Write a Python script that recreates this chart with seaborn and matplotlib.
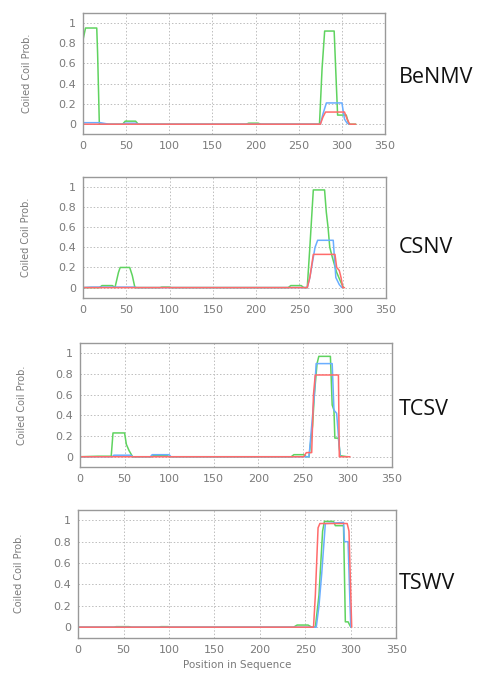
import numpy as np
import matplotlib
matplotlib.use("Agg")
import matplotlib.pyplot as plt
import seaborn as sns

# Coiled coil probability profiles (breakpoints)
benmv_green_x = [0, 3, 16, 17, 19, 46, 49, 61, 64, 189, 192, 203, 206, 274, 277, 280, 291, 293, 295, 305, 308, 316]
benmv_green_y = [0.83, 0.95, 0.95, 0.7, 0, 0, 0.03, 0.03, 0, 0, 0.01, 0.01, 0, 0, 0.55, 0.92, 0.92, 0.5, 0.09, 0.09, 0, 0]
benmv_blue_x = [0, 20, 30, 46, 49, 61, 64, 275, 278, 282, 300, 303, 306, 309]
benmv_blue_y = [0.015, 0.015, 0, 0, 0.01, 0.01, 0, 0, 0.1, 0.21, 0.21, 0.05, 0.01, 0]
benmv_red_x = [0, 275, 278, 281, 303, 306, 309, 316]
benmv_red_y = [0, 0, 0.07, 0.12, 0.12, 0.05, 0, 0]

csnv_green_x = [0, 19, 22, 34, 37, 41, 43, 54, 57, 60, 89, 91, 100, 102, 237, 240, 252, 255, 259, 262, 266, 279, 281, 283, 285, 288, 293, 298, 301]
csnv_green_y = [0, 0, 0.02, 0.02, 0, 0.15, 0.2, 0.2, 0.12, 0, 0, 0.005, 0.005, 0, 0, 0.02, 0.02, 0, 0, 0.4, 0.97, 0.97, 0.75, 0.6, 0.4, 0.3, 0.15, 0.05, 0]
csnv_blue_x = [0, 10, 60, 62, 259, 262, 268, 271, 289, 292, 296, 299]
csnv_blue_y = [0, 0.005, 0.005, 0, 0, 0.1, 0.4, 0.47, 0.47, 0.1, 0.03, 0]
csnv_red_x = [0, 259, 262, 266, 291, 293, 296, 298, 300, 302]
csnv_red_y = [0, 0, 0.1, 0.33, 0.33, 0.2, 0.17, 0.1, 0, 0]

tcsv_green_x = [0, 20, 35, 37, 50, 52, 55, 59, 80, 82, 98, 100, 237, 240, 251, 254, 257, 261, 263, 266, 268, 281, 283, 285, 286, 290, 292, 300]
tcsv_green_y = [0, 0.005, 0.005, 0.23, 0.23, 0.12, 0.06, 0, 0, 0.01, 0.01, 0, 0, 0.02, 0.02, 0, 0, 0.3, 0.6, 0.9, 0.97, 0.97, 0.5, 0.45, 0.18, 0.18, 0.01, 0]
tcsv_blue_x = [0, 36, 38, 57, 59, 79, 81, 100, 102, 257, 260, 263, 265, 283, 285, 288, 290, 292]
tcsv_blue_y = [0, 0, 0.015, 0.015, 0, 0, 0.02, 0.02, 0, 0, 0.3, 0.6, 0.9, 0.9, 0.45, 0.42, 0.2, 0]
tcsv_red_x = [0, 251, 254, 260, 262, 264, 290, 291, 303]
tcsv_red_y = [0, 0, 0.04, 0.04, 0.6, 0.79, 0.79, 0, 0]

tswv_green_x = [0, 39, 42, 56, 59, 89, 91, 99, 101, 237, 241, 253, 257, 261, 265, 269, 271, 281, 283, 292, 294, 297, 300]
tswv_green_y = [0, 0, 0.005, 0.005, 0, 0, 0.005, 0.005, 0, 0, 0.02, 0.02, 0, 0, 0.3, 0.9, 0.99, 0.99, 0.95, 0.95, 0.05, 0.05, 0]
tswv_blue_x = [0, 262, 265, 268, 272, 292, 293, 297, 299, 300]
tswv_blue_y = [0, 0, 0.2, 0.5, 0.97, 0.98, 0.8, 0.8, 0.25, 0]
tswv_red_x = [0, 259, 261, 264, 266, 296, 298, 300, 301]
tswv_red_y = [0, 0, 0.3, 0.93, 0.97, 0.97, 0.9, 0.3, 0]

virus_names = ["BeNMV", "CSNV", "TCSV", "TSWV"]
x_ticks = [0, 50, 100, 150, 200, 250, 300, 350]
y_ticks = [0, 0.2, 0.4, 0.6, 0.8, 1]
y_tick_labels = ["0", "0.2", "0.4", "0.6", "0.8", "1"]

sns.set_style("white")
plt.rcParams["font.family"] = ["DejaVu Sans"]

fig = plt.figure(figsize=(4.85, 6.75), dpi=100)

# axes boxes [left, bottom, width, height] in figure fraction
boxes = [
    [0.171, 0.801, 0.623, 0.180],
    [0.171, 0.559, 0.625, 0.179],
    [0.165, 0.308, 0.643, 0.184],
    [0.161, 0.055, 0.656, 0.190],
]
label_y = [0.885, 0.634, 0.393, 0.136]

panels = [
    (benmv_green_x, benmv_green_y, benmv_blue_x, benmv_blue_y, benmv_red_x, benmv_red_y),
    (csnv_green_x, csnv_green_y, csnv_blue_x, csnv_blue_y, csnv_red_x, csnv_red_y),
    (tcsv_green_x, tcsv_green_y, tcsv_blue_x, tcsv_blue_y, tcsv_red_x, tcsv_red_y),
    (tswv_green_x, tswv_green_y, tswv_blue_x, tswv_blue_y, tswv_red_x, tswv_red_y),
]

grey = "#7a7a7a"
for i, (gx, gy, bx, by, rx, ry) in enumerate(panels):
    ax = fig.add_axes(boxes[i])
    sns.lineplot(x=gx, y=gy, ax=ax, color="#5fd35f", lw=1.1, estimator=None)
    sns.lineplot(x=bx, y=by, ax=ax, color="#6aaeff", lw=1.1, estimator=None)
    sns.lineplot(x=rx, y=ry, ax=ax, color="#ff6b6b", lw=1.1, estimator=None)
    ax.set_xlim(0, 350)
    ax.set_ylim(-0.1, 1.1)
    ax.set_xticks(x_ticks)
    ax.set_yticks(y_ticks)
    ax.set_yticklabels(y_tick_labels)
    ax.grid(True, color="#bdbdbd", ls=(0, (1.5, 2)), lw=0.7)
    ax.tick_params(labelsize=8, colors=grey, length=2, direction="in", pad=5)
    for s in ax.spines.values():
        s.set_color("#999999")
        s.set_linewidth(1.0)
    ax.set_ylabel("Coiled Coil Prob.", fontsize=7, color=grey)
    ax.yaxis.set_label_coords(-0.17, 0.5)
    if i == 3:
        ax.set_xlabel("Position in Sequence", fontsize=7.5, color=grey, labelpad=4)
    fig.text(0.822, label_y[i], virus_names[i], fontsize=15.5, family="Open Sans",
             va="center", ha="left", color="#111111")

fig.savefig("out.png", dpi=100)
